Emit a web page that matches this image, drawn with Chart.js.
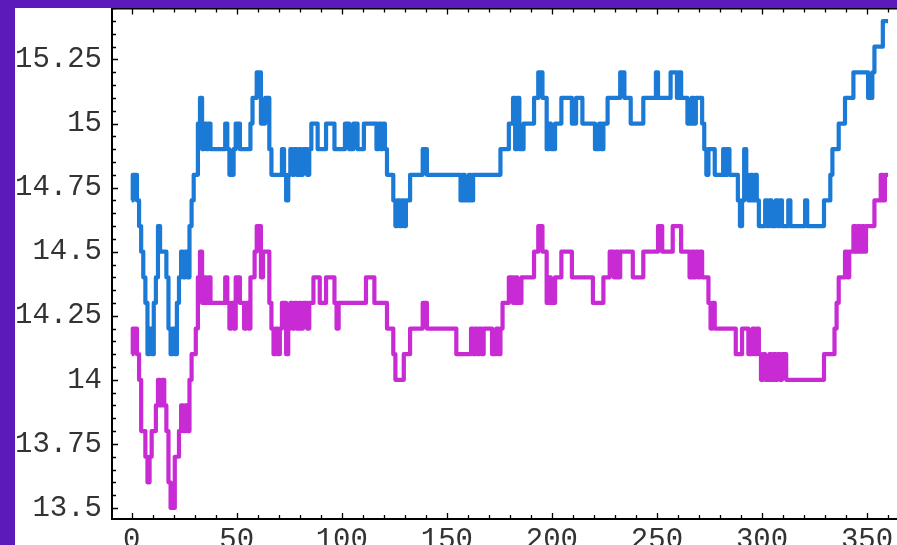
<!DOCTYPE html>
<html>
<head>
<meta charset="utf-8">
<script src="https://cdn.jsdelivr.net/npm/chart.js@4"></script>
<style>
  html, body { margin: 0; padding: 0; background: #ffffff; overflow: hidden; width: 897px; height: 545px; position: relative; }
  #wrap { position: absolute; left: 0; top: 0; width: 905px; height: 545px; }
  .band { position: absolute; background: #5b1ab9; }
</style>
</head>
<body>
<div id="wrap"><canvas id="c" width="905" height="545"></canvas></div>
<div class="band" style="left:0;top:0;width:15px;height:545px"></div>
<div class="band" style="left:0;top:0;width:897px;height:8px"></div>
<script>
// Two daily series, one value per step (index 0..360)
const upper = [
  14.7,14.8,14.8,14.7,14.6,14.5,14.4,14.3,14.1,14.2,
  14.1,14.3,14.4,14.6,14.5,14.5,14.5,14.4,14.2,14.1,
  14.2,14.1,14.3,14.4,14.5,14.4,14.5,14.4,14.6,14.7,
  14.8,14.8,15.0,15.1,14.9,15.0,14.9,15.0,14.9,14.9,
  14.9,14.9,14.9,14.9,14.9,15.0,14.9,14.8,14.8,14.9,
  15.0,15.0,14.9,14.9,14.9,14.9,14.9,15.0,15.1,15.1,
  15.2,15.2,15.0,15.0,15.1,15.1,14.9,14.8,14.8,14.8,
  14.8,14.8,14.9,14.8,14.7,14.8,14.9,14.8,14.9,14.8,
  14.9,14.8,14.9,14.9,14.8,14.9,15.0,15.0,15.0,14.9,
  14.9,14.9,14.9,15.0,15.0,15.0,15.0,14.9,14.9,14.9,
  14.9,14.9,15.0,15.0,14.9,14.9,15.0,15.0,14.9,14.9,
  14.9,15.0,15.0,15.0,15.0,15.0,15.0,14.9,15.0,14.9,
  15.0,14.9,14.8,14.8,14.8,14.7,14.6,14.7,14.6,14.7,
  14.6,14.7,14.7,14.8,14.8,14.8,14.8,14.8,14.8,14.9,
  14.9,14.8,14.8,14.8,14.8,14.8,14.8,14.8,14.8,14.8,
  14.8,14.8,14.8,14.8,14.8,14.8,14.8,14.7,14.8,14.7,
  14.7,14.8,14.7,14.8,14.8,14.8,14.8,14.8,14.8,14.8,
  14.8,14.8,14.8,14.8,14.8,14.8,14.9,14.9,14.9,14.9,
  15.0,15.0,15.1,14.9,15.1,14.9,14.9,15.0,15.0,15.0,
  15.0,15.0,15.1,15.1,15.2,15.2,15.1,15.1,14.9,15.0,
  14.9,14.9,15.0,15.0,15.0,15.1,15.1,15.1,15.1,15.1,
  15.0,15.0,15.1,15.1,15.1,15.0,15.0,15.0,15.0,15.0,
  15.0,14.9,14.9,15.0,14.9,15.0,15.0,15.1,15.1,15.1,
  15.1,15.1,15.1,15.2,15.2,15.1,15.1,15.1,15.0,15.0,
  15.0,15.0,15.0,15.0,15.1,15.1,15.1,15.1,15.1,15.1,
  15.2,15.1,15.1,15.1,15.1,15.1,15.1,15.2,15.2,15.2,
  15.1,15.2,15.1,15.1,15.1,15.0,15.0,15.1,15.0,15.1,
  15.1,15.1,15.0,14.9,14.8,14.9,14.9,14.9,14.8,14.8,
  14.8,14.8,14.9,14.8,14.9,14.8,14.8,14.8,14.8,14.7,
  14.6,14.7,14.9,14.8,14.7,14.8,14.7,14.8,14.7,14.6,
  14.6,14.6,14.7,14.6,14.7,14.6,14.6,14.7,14.6,14.7,
  14.6,14.6,14.6,14.7,14.6,14.6,14.6,14.6,14.6,14.6,
  14.6,14.7,14.6,14.6,14.6,14.6,14.6,14.6,14.6,14.6,
  14.7,14.7,14.7,14.8,14.9,14.9,14.9,15.0,15.0,15.0,
  15.1,15.1,15.1,15.1,15.2,15.2,15.2,15.2,15.2,15.2,
  15.2,15.1,15.1,15.2,15.3,15.3,15.3,15.3,15.4,15.4,
  15.4
];

const lower = [
  14.1,14.2,14.2,14.1,14.0,13.8,13.8,13.7,13.6,13.7,
  13.8,13.8,13.9,14.0,13.9,14.0,13.9,13.8,13.6,13.5,
  13.5,13.7,13.7,13.8,13.9,13.8,13.9,13.8,14.0,14.1,
  14.1,14.2,14.4,14.5,14.3,14.4,14.3,14.4,14.3,14.3,
  14.3,14.3,14.3,14.3,14.3,14.4,14.3,14.2,14.3,14.2,
  14.4,14.4,14.3,14.3,14.2,14.3,14.2,14.4,14.4,14.5,
  14.6,14.6,14.4,14.5,14.5,14.5,14.3,14.2,14.1,14.2,
  14.1,14.2,14.3,14.3,14.1,14.2,14.3,14.2,14.3,14.2,
  14.3,14.2,14.3,14.3,14.2,14.3,14.3,14.4,14.4,14.4,
  14.3,14.3,14.3,14.4,14.4,14.4,14.4,14.3,14.2,14.3,
  14.3,14.3,14.3,14.3,14.3,14.3,14.3,14.3,14.3,14.3,
  14.3,14.3,14.4,14.4,14.4,14.4,14.3,14.3,14.3,14.3,
  14.3,14.3,14.2,14.2,14.2,14.1,14.0,14.0,14.0,14.0,
  14.1,14.1,14.1,14.2,14.2,14.2,14.2,14.2,14.2,14.3,
  14.3,14.2,14.2,14.2,14.2,14.2,14.2,14.2,14.2,14.2,
  14.2,14.2,14.2,14.2,14.2,14.1,14.1,14.1,14.1,14.1,
  14.1,14.1,14.2,14.1,14.2,14.1,14.2,14.1,14.2,14.2,
  14.2,14.2,14.1,14.1,14.2,14.1,14.2,14.3,14.3,14.3,
  14.4,14.4,14.3,14.4,14.3,14.3,14.4,14.4,14.4,14.4,
  14.4,14.4,14.5,14.5,14.6,14.6,14.5,14.5,14.3,14.4,
  14.3,14.3,14.4,14.4,14.4,14.5,14.5,14.5,14.5,14.5,
  14.4,14.4,14.4,14.4,14.4,14.4,14.4,14.4,14.4,14.4,
  14.3,14.3,14.3,14.3,14.3,14.4,14.4,14.4,14.5,14.5,
  14.4,14.5,14.4,14.5,14.5,14.5,14.5,14.5,14.5,14.4,
  14.4,14.4,14.4,14.4,14.5,14.5,14.5,14.5,14.5,14.5,
  14.5,14.6,14.6,14.5,14.5,14.5,14.5,14.5,14.6,14.6,
  14.6,14.6,14.5,14.5,14.5,14.5,14.4,14.5,14.4,14.5,
  14.4,14.5,14.4,14.4,14.4,14.3,14.2,14.3,14.2,14.2,
  14.2,14.2,14.2,14.2,14.2,14.2,14.2,14.2,14.1,14.1,
  14.1,14.2,14.2,14.2,14.1,14.1,14.2,14.1,14.2,14.1,
  14.0,14.1,14.0,14.0,14.1,14.0,14.1,14.0,14.1,14.0,
  14.1,14.1,14.0,14.0,14.0,14.0,14.0,14.0,14.0,14.0,
  14.0,14.0,14.0,14.0,14.0,14.0,14.0,14.0,14.0,14.0,
  14.1,14.1,14.1,14.1,14.1,14.2,14.3,14.4,14.4,14.4,
  14.5,14.4,14.5,14.5,14.6,14.5,14.6,14.5,14.6,14.5,
  14.6,14.6,14.6,14.6,14.7,14.7,14.7,14.8,14.7,14.8,
  14.8
];

const xTicks = [0, 50, 100, 150, 200, 250, 300, 350];
const yTicks = [13.5, 13.75, 14, 14.25, 14.5, 14.75, 15, 15.25];

const BLUE = '#1b7ad6';
const MAGENTA = '#c82ad4';
const LABEL_FONT = { family: '"Liberation Mono", "DejaVu Sans Mono", monospace', size: 29 };

const toPoints = arr => arr.map((v, i) => ({ x: i, y: v }));

// Black frame with inward ticks on every side
const framePlugin = {
  id: 'frame',
  afterDatasetsDraw(chart) {
    const { ctx, chartArea: a, scales: { x, y } } = chart;
    ctx.save();
    ctx.strokeStyle = '#000';
    ctx.lineWidth = 1.3;
    ctx.beginPath();
    // x ticks every 10, major every 50
    for (let v = -10; v <= 370; v += 10) {
      const px = Math.round(x.getPixelForValue(v)) + 0.5;
      if (px < a.left || px > a.right) continue;
      const len = v % 50 === 0 ? 6 : 4;
      ctx.moveTo(px, a.bottom); ctx.lineTo(px, a.bottom - len);
      ctx.moveTo(px, a.top); ctx.lineTo(px, a.top + len);
    }
    // y ticks every 0.05, major every 0.25
    for (let k = 269; k <= 309; k++) {
      const v = k * 0.05;
      const py = Math.round(y.getPixelForValue(v)) + 0.5;
      if (py < a.top || py > a.bottom) continue;
      const len = k % 5 === 0 ? 6 : 4;
      ctx.moveTo(a.left, py); ctx.lineTo(a.left + len, py);
      ctx.moveTo(a.right, py); ctx.lineTo(a.right - len, py);
    }
    ctx.stroke();
    ctx.lineWidth = 2;
    ctx.strokeRect(a.left, a.top, a.right - a.left, a.bottom - a.top);
    ctx.restore();
  }
};

const common = { pointRadius: 0, fill: false, stepped: 'middle', borderWidth: 4.2, borderJoinStyle: 'round', borderCapStyle: 'butt' };

new Chart(document.getElementById('c'), {
  type: 'line',
  data: {
    datasets: [
      Object.assign({ data: toPoints(upper), borderColor: BLUE }, common),
      Object.assign({ data: toPoints(lower), borderColor: MAGENTA }, common)
    ]
  },
  options: {
    responsive: false,
    animation: false,
    events: [],
    layout: { padding: { top: 8.5, right: 2, left: 0, bottom: 0 } },
    plugins: { legend: { display: false }, tooltip: { enabled: false } },
    scales: {
      x: {
        type: 'linear', min: -9.38, max: 367.1,
        grid: { display: false, drawTicks: false },
        border: { display: false },
        afterBuildTicks: s => { s.ticks = xTicks.map(v => ({ value: v })); },
        afterFit: s => { s.height = 26; s.paddingLeft = 0; s.paddingRight = 0; },
        ticks: { font: LABEL_FONT, color: '#333333', padding: 4, maxRotation: 0, autoSkip: false, callback: v => String(v) }
      },
      y: {
        type: 'linear', min: 13.457, max: 15.449,
        grid: { display: false, drawTicks: false },
        border: { display: false },
        afterBuildTicks: s => { s.ticks = yTicks.map(v => ({ value: v })); },
        afterFit: s => { s.width = 112; s.paddingTop = 0; s.paddingBottom = 0; },
        ticks: { font: LABEL_FONT, color: '#333333', padding: 10, autoSkip: false, callback: v => String(v) }
      }
    }
  },
  plugins: [framePlugin]
});
</script>
</body>
</html>
